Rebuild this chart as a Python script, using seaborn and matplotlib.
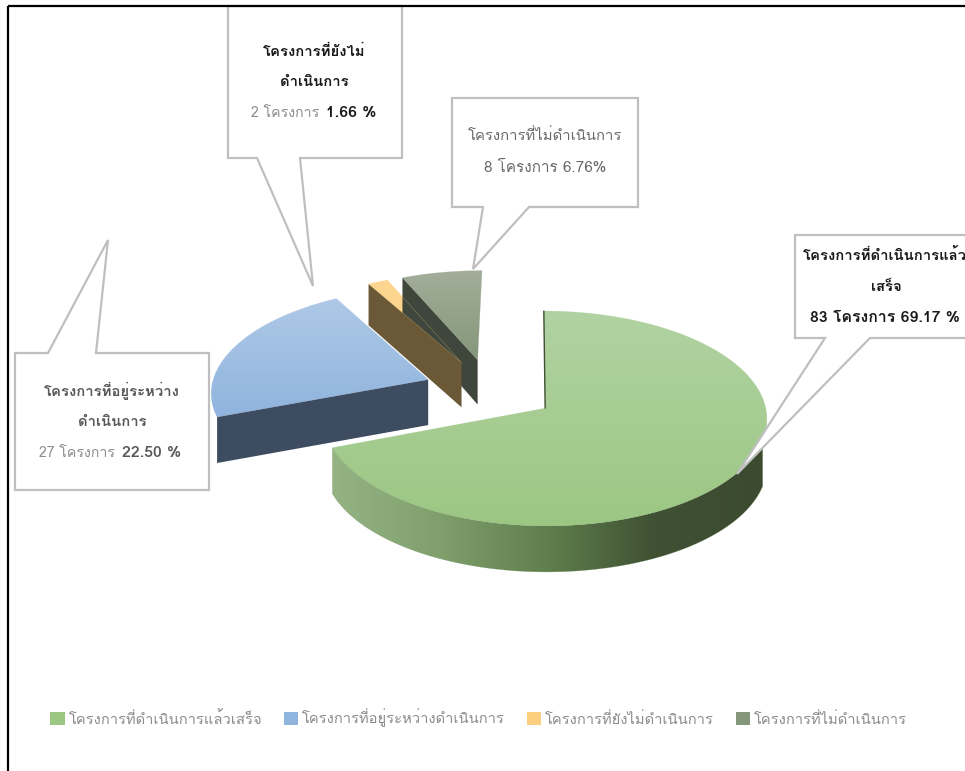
import matplotlib
matplotlib.use("Agg")
import matplotlib.pyplot as plt
import numpy as np
import seaborn as sns
from matplotlib.patches import Patch, Polygon, Rectangle

# Values
categories = [
    "โครงการที่ดำเนินการแล้วเสร็จ",
    "โครงการที่อยู่ระหว่างดำเนินการ",
    "โครงการที่ยังไม่ดำเนินการ",
    "โครงการที่ไม่ดำเนินการ",
]
counts = [83, 27, 2, 8]

# Colours, top of the slice to bottom of the slice
top_colors = [
    ["#b1d2a2", "#9cc783"],
    ["#afc9e7", "#8fb4de"],
    ["#fdd791", "#fbcf7e"],
    ["#a3ae9a", "#84977a"],
]
wall_colors = ["#3f5033", "#3d4c60", "#6b5836", "#3f473c"]
green_wall = ["#95b484", "#7f9f6c", "#5f7f4c", "#3f5033", "#3c4b30"]

sns.set_theme(style="white")
plt.rcParams["font.family"] = ["Loma", "DejaVu Sans"]

# Tilted pie: plane coordinates are in radii, projected to picture pixels
CX, CY = 490, 390
VANISH_X = 530
RX, RY = 217, 103
TILT = 0.094
EXPLODE = 0.307
DEPTH = 46


def project(x, y):
    w = 1 + TILT * y
    return VANISH_X + (CX - VANISH_X + RX * x) / w, CY - RY * y / w


def depth(y):
    return DEPTH / (1 + 0.1 * max(y, 0))


def arc(start, end, offset, n=120):
    a = np.radians(np.linspace(start, end, n))
    return project(np.sin(a) + offset[0], np.cos(a) + offset[1])


def gradient_fill(ax, xs, ys, colors, horizontal=False):
    poly = Polygon(np.column_stack([xs, ys]), closed=True, fc="none", ec="none")
    ax.add_patch(poly)
    cmap = sns.blend_palette(colors, as_cmap=True)
    grad = np.linspace(0, 1, 256)
    grad = grad.reshape(1, -1) if horizontal else grad.reshape(-1, 1)
    im = ax.imshow(
        grad,
        cmap=cmap,
        aspect="auto",
        extent=(min(xs), max(xs), max(ys), min(ys)),
        interpolation="bilinear",
    )
    im.set_clip_path(poly)
    # thin edge to soften the jagged clip
    ax.add_patch(Polygon(np.column_stack([xs, ys]), closed=True, fc="none",
                         ec=sns.blend_palette(colors, 3)[1], lw=0.3, alpha=0.5))


fig = plt.figure(figsize=(9.65, 7.71), dpi=100)
ax = fig.add_axes([0, 0, 1, 1])

edges = np.concatenate([[0], np.cumsum(counts)]) / sum(counts) * 360
slices = []
for i in range(len(counts)):
    mid = np.radians((edges[i] + edges[i + 1]) / 2)
    offset = (EXPLODE * np.sin(mid), EXPLODE * np.cos(mid))
    slices.append((edges[i], edges[i + 1], offset))

# back to front: grey, yellow, blue, green
for i in [3, 2, 1, 0]:
    start, end, offset = slices[i]
    ax_, ay_ = project(*offset)
    ex, ey = arc(start, end, offset)
    if i == 0:
        # outer wall, visible from the right side round to the left end
        wx, wy = arc(107, end, offset)
        xs = np.concatenate([wx, wx[::-1]])
        ys = np.concatenate([wy, wy[::-1] + DEPTH])
        gradient_fill(ax, xs, ys, green_wall, horizontal=True)
    else:
        # cut face on the side of the slice's first edge
        cx, cy = ex[0], ey[0]
        corner_y = np.cos(np.radians(start)) + offset[1]
        ax.add_patch(Polygon(
            [(ax_, ay_), (cx, cy), (cx, cy + depth(corner_y)),
             (ax_, ay_ + depth(offset[1]))],
            closed=True, fc=wall_colors[i], ec="none",
        ))
    xs = np.concatenate([[ax_], ex])
    ys = np.concatenate([[ay_], ey])
    gradient_fill(ax, xs, ys, top_colors[i])
    if i == 0:
        ax.plot([ax_, ex[0]], [ay_, ey[0]], color=wall_colors[0], lw=1)

# Callouts
callouts = [
    [(228, 6), (228, 158), (257, 158), (313, 286), (300, 158), (402, 158), (402, 6)],
    [(452, 98), (452, 207), (483, 207), (473, 269), (529, 207), (638, 207), (638, 98)],
    [(795, 235), (795, 338), (825, 338), (737, 474), (870, 338), (980, 338), (980, 235)],
    [(15, 353), (15, 490), (209, 490), (209, 353), (96, 353), (108, 240), (48, 353)],
]
for pts in callouts:
    ax.add_patch(Polygon(pts, closed=True, fc="white", ec="#bfbfbf", lw=1.6, zorder=5))

BLACK = "#1a1a1a"
GREY = "#8c8c8c"
MID = "#6a6a6a"
DARK = "#595959"


def label(x, y, s, color, bold=True, ha="center", size=10.7):
    ax.text(x, y, s, color=color, fontsize=size,
            fontweight="bold" if bold else "normal",
            ha=ha, va="center", zorder=6)


label(314, 52, "โครงการที่ยังไม่", BLACK)
label(314, 82, "ดำเนินการ", BLACK)
label(319, 113, "2 โครงการ", GREY, bold=False, ha="right", size=10.2)
label(326, 113, "1.66 %", BLACK, ha="left", size=11.4)

label(545, 136, "โครงการที่ไม่ดำเนินการ", MID, bold=False)
label(545, 168, "8 โครงการ 6.76%", MID, bold=False, size=11)

label(803, 255, "โครงการที่ดำเนินการแล้ว", BLACK, ha="left")
label(886, 287, "เสร็จ", BLACK)
label(885, 318, "83 โครงการ 69.17 %", BLACK, size=11.4)

label(112, 391, "โครงการที่อยู่ระหว่าง", DARK)
label(112, 422, "ดำเนินการ", DARK)
label(115, 453, "27 โครงการ", GREY, bold=False, ha="right", size=10.2)
label(122, 453, "22.50 %", DARK, ha="left", size=11.4)

# Legend
handles = [Patch(fc=c[1], ec="none") for c in top_colors]
ax.legend(
    handles, categories, ncol=4, loc="center left",
    bbox_to_anchor=(50 / 965, 1 - 718 / 771), frameon=False,
    fontsize=10.6, labelcolor="#8c8c8c", handlelength=1, handleheight=1,
    handletextpad=0.27, columnspacing=1.45, borderpad=0, borderaxespad=0,
)

# Outer frame, right and bottom sides fall outside the picture
ax.add_patch(Rectangle((8, 6), 1000, 800, fc="none", ec="black", lw=1.6, zorder=7))

ax.set_xlim(0, 965)
ax.set_ylim(771, 0)
ax.axis("off")
fig.savefig("out.png", dpi=100)
